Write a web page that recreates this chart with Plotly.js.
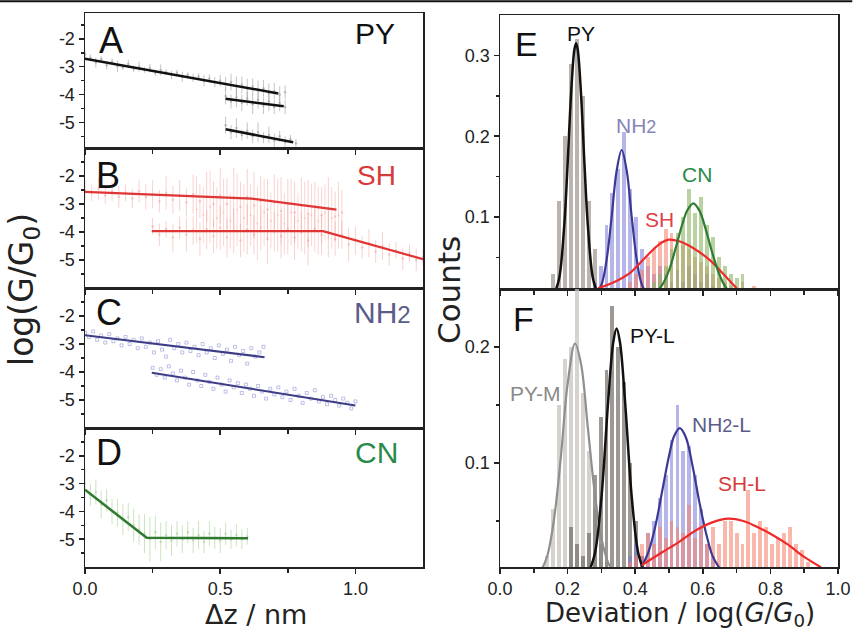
<!DOCTYPE html>
<html><head><meta charset="utf-8">
<script src="https://cdn.plot.ly/plotly-3.0.1.min.js"></script>
<style>html,body{margin:0;padding:0;background:#fff}#chart{width:854px;height:632px}</style>
</head><body><div id="chart"></div>
<script>
// ---------- Panel A (PY) ----------
const aCloud1X = [0,0.02,0.04,0.06,0.08,0.10,0.12,0.14,0.16,0.18,0.20,0.22,0.24,0.26,0.28,0.30,0.32,0.34,0.36,0.38,0.40,0.42,0.44,0.46,0.48,0.50,0.52,0.54,0.56,0.58,0.60,0.62,0.64,0.66,0.68,0.70,0.72,0.74];
const aCloud1Y = [-2.55,-2.68,-2.85,-2.72,-2.95,-2.82,-2.98,-3.02,-2.90,-3.08,-3.00,-3.12,-3.05,-3.22,-3.12,-3.20,-3.30,-3.22,-3.36,-3.30,-3.40,-3.35,-3.50,-3.42,-3.55,-3.50,-3.62,-3.55,-3.70,-3.65,-3.78,-3.72,-3.85,-3.78,-3.95,-3.88,-4.00,-3.92];
const aCloud1E = [0.15,0.12,0.18,0.1,0.15,0.12,0.2,0.1,0.15,0.12,0.18,0.1,0.15,0.12,0.2,0.1,0.15,0.12,0.18,0.1,0.15,0.12,0.2,0.15,0.18,0.2,0.25,0.3,0.35,0.3,0.35,0.3,0.35,0.3,0.35,0.3,0.3,0.25];
const aCloud2X = [0.52,0.54,0.56,0.58,0.60,0.62,0.64,0.66,0.68,0.70,0.72,0.74];
const aCloud2Y = [-4.05,-4.25,-4.10,-4.30,-4.15,-4.35,-4.20,-4.40,-4.25,-4.45,-4.30,-4.45];
const aCloud2E = [0.3,0.25,0.35,0.3,0.25,0.35,0.3,0.3,0.35,0.25,0.3,0.25];
const aCloud3X = [0.52,0.54,0.56,0.58,0.60,0.62,0.64,0.66,0.68,0.70,0.72,0.74,0.76,0.78];
const aCloud3Y = [-5.10,-5.35,-5.20,-5.45,-5.30,-5.50,-5.35,-5.55,-5.45,-5.65,-5.50,-5.70,-5.60,-5.75];
const aCloud3E = [0.3,0.25,0.35,0.2,0.3,0.25,0.35,0.2,0.3,0.25,0.2,0.2,0.15,0.15];
const aFit1X = [0, 0.715], aFit1Y = [-2.71, -3.96];
const aFit2X = [0.52, 0.735], aFit2Y = [-4.15, -4.42];
const aFit3X = [0.52, 0.77], aFit3Y = [-5.25, -5.71];

// ---------- Panel B (SH) ----------
const bCloud1X = [0,0.025,0.05,0.075,0.1,0.125,0.15,0.175,0.2,0.225,0.25,0.275,0.3,0.325,0.35,0.375,0.4,0.425,0.45,0.475,0.5,0.525,0.55,0.575,0.6,0.625,0.65,0.675,0.7,0.725,0.75,0.775,0.8,0.825,0.85,0.875,0.9,0.925,0.95];
const bCloud1Y = [-2.5,-2.6,-2.45,-2.7,-2.55,-2.75,-2.6,-2.8,-2.55,-2.75,-2.65,-2.9,-2.6,-2.85,-2.7,-2.95,-2.65,-2.9,-2.75,-3.0,-2.7,-3.0,-2.8,-3.1,-2.75,-3.05,-2.9,-3.2,-2.95,-3.25,-3.0,-3.3,-3.05,-3.35,-3.1,-3.4,-3.15,-3.45,-3.3];
const bCloud1E = [0.35,0.3,0.4,0.3,0.35,0.4,0.3,0.35,0.4,0.45,0.5,0.4,0.6,0.5,0.55,0.5,0.7,0.6,0.9,0.8,1.0,0.9,1.1,0.9,1.0,1.2,0.9,1.1,1.0,1.2,0.9,1.1,1.0,1.2,0.9,1.0,1.1,0.9,0.8];
const bCloud2X = [0.25,0.275,0.3,0.325,0.35,0.375,0.4,0.425,0.45,0.475,0.5,0.525,0.55,0.575,0.6,0.625,0.65,0.675,0.7,0.725,0.75,0.775,0.8,0.825,0.85,0.875,0.9,0.925,0.95,0.975,1.0,1.025,1.05,1.075,1.1,1.125,1.15,1.175,1.2,1.225,1.25];
const bCloud2Y = [-3.8,-4.1,-3.9,-4.2,-3.85,-4.1,-3.95,-4.25,-3.9,-4.15,-3.85,-4.2,-3.95,-4.3,-3.9,-4.1,-3.85,-4.25,-4.0,-4.15,-3.9,-4.2,-4.0,-4.3,-3.9,-4.1,-4.0,-4.25,-4.1,-4.45,-4.3,-4.55,-4.4,-4.7,-4.5,-4.8,-4.65,-4.95,-4.75,-5.0,-4.9];
const bCloud2E = [0.3,0.4,0.3,0.5,0.4,0.6,0.5,0.6,0.7,0.6,0.8,0.7,0.8,0.6,0.9,0.7,0.8,0.9,0.7,0.8,0.9,0.8,0.7,0.9,0.8,0.7,0.9,0.6,0.5,0.6,0.5,0.4,0.5,0.4,0.5,0.4,0.3,0.4,0.3,0.4,0.3];
const bCloud3X = [0.4125,0.4375,0.4625,0.4875,0.5125,0.5375,0.5625,0.5875,0.6125,0.6375,0.6625,0.6875,0.7125,0.7375,0.7625,0.7875,0.8125,0.8375,0.8625,0.8875,0.9125,0.9375];
const bCloud3Y = [-3.2,-3.4,-3.1,-3.5,-3.3,-3.6,-3.2,-3.5,-3.4,-3.7,-3.3,-3.6,-3.4,-3.7,-3.3,-3.6,-3.5,-3.4,-3.6,-3.3,-3.5,-3.4];
const bCloud3E = [1.2,1.0,1.3,1.1,1.2,1.0,1.3,1.2,1.1,1.3,1.2,1.0,1.3,1.1,1.2,1.0,1.3,1.1,1.2,1.0,1.1,1.2];
const bFit1X = [0, 0.617, 0.93], bFit1Y = [-2.57, -2.81, -3.2];
const bFit2X = [0.247, 0.88, 1.25], bFit2Y = [-3.97, -3.97, -4.97];

// ---------- Panel C (NH2) ----------
const cCloud1X = [0,0.015,0.03,0.045,0.06,0.075,0.09,0.105,0.12,0.135,0.15,0.165,0.18,0.195,0.21,0.225,0.24,0.255,0.27,0.285,0.3,0.315,0.33,0.345,0.36,0.375,0.39,0.405,0.42,0.435,0.45,0.465,0.48,0.495,0.51,0.525,0.54,0.555,0.57,0.585,0.6,0.615,0.63,0.645,0.66];
const cCloud1Y = [-2.6,-2.75,-2.55,-2.85,-2.7,-2.95,-2.65,-2.9,-2.8,-3.05,-2.75,-3.0,-2.85,-3.15,-2.8,-3.1,-2.95,-3.3,-2.9,-3.2,-3.45,-2.85,-3.15,-3.0,-3.3,-2.95,-3.25,-3.1,-3.4,-3.0,-3.3,-3.15,-3.5,-3.05,-3.35,-3.2,-3.6,-3.1,-3.4,-3.25,-3.7,-3.15,-3.45,-3.3,-3.1];
const cCloud2X = [0.25,0.265,0.28,0.295,0.31,0.325,0.34,0.355,0.37,0.385,0.4,0.415,0.43,0.445,0.46,0.475,0.49,0.505,0.52,0.535,0.55,0.565,0.58,0.595,0.61,0.625,0.64,0.655,0.67,0.685,0.7,0.715,0.73,0.745,0.76,0.775,0.79,0.805,0.82,0.835,0.85,0.865,0.88,0.895,0.91,0.925,0.94,0.955,0.97,0.985,1.0];
const cCloud2Y = [-3.85,-4.1,-3.9,-4.2,-3.8,-4.05,-4.3,-3.95,-4.2,-4.45,-4.0,-4.3,-4.5,-4.1,-4.35,-4.6,-4.2,-4.45,-4.7,-4.3,-4.55,-4.4,-4.75,-4.45,-4.6,-4.85,-4.5,-4.7,-4.95,-4.6,-4.8,-4.55,-4.9,-4.7,-5.0,-4.6,-4.85,-5.1,-4.75,-4.95,-4.65,-5.05,-4.9,-5.15,-4.85,-5.0,-5.2,-4.95,-5.1,-5.3,-5.05];
const cFit1X = [0, 0.664], cFit1Y = [-2.69, -3.47];
const cFit2X = [0.247, 1.0], cFit2Y = [-4.03, -5.2];

// ---------- Panel D (CN) ----------
const dCloudX = [0,0.02,0.04,0.06,0.08,0.1,0.12,0.14,0.16,0.18,0.2,0.22,0.24,0.26,0.28,0.3,0.32,0.34,0.36,0.38,0.4,0.42,0.44,0.46,0.48,0.5,0.52,0.54,0.56,0.58,0.6];
const dCloudY = [-3.0,-3.4,-3.3,-3.75,-3.6,-4.0,-4.05,-4.3,-4.2,-4.5,-4.65,-4.8,-5.0,-4.75,-5.1,-4.85,-5.05,-4.8,-5.0,-4.75,-5.05,-4.85,-5.1,-4.8,-4.95,-5.05,-4.8,-5.0,-4.85,-5.0,-4.9];
const dCloudE = [0.5,0.4,0.45,0.5,0.4,0.45,0.5,0.55,0.5,0.6,0.55,0.7,0.8,0.6,0.7,0.5,0.55,0.45,0.5,0.4,0.45,0.5,0.4,0.45,0.4,0.45,0.4,0.35,0.4,0.35,0.3];
const dFitX = [0, 0.228, 0.603], dFitY = [-3.22, -4.95, -4.97];

// ---------- Panel E histograms ----------
const ePyX = [0.1575,0.175,0.1925,0.21,0.2275,0.245,0.2625,0.28];
const ePyY = [0.03,0.12,0.20,0.29,0.32,0.25,0.12,0.06];
const eNhX = [0.28,0.2975,0.315,0.3325,0.35,0.3675,0.385,0.4025,0.42,0.4375,0.455,0.4725,0.49,0.5075,0.525,0.5425,0.56,0.5775,0.595,0.6125,0.63];
const eNhY = [0.02,0.04,0.09,0.13,0.16,0.205,0.135,0.10,0.06,0.04,0.03,0.04,0.03,0.02,0.035,0.02,0.04,0.03,0.02,0.03,0.015];
const eShX = [0.385,0.4025,0.42,0.4375,0.455,0.4725,0.49,0.5075,0.525,0.5425,0.56,0.5775,0.595,0.6125,0.63,0.6475,0.665,0.6825,0.70,0.7175,0.735,0.7525];
const eShY = [0.02,0.03,0.035,0.05,0.06,0.07,0.085,0.08,0.075,0.065,0.06,0.05,0.045,0.04,0.03,0.025,0.02,0.015,0.012,0.02,0.012,0.015];
const eCnX = [0.455,0.4725,0.49,0.5075,0.525,0.5425,0.56,0.5775,0.595,0.6125,0.63,0.6475,0.665,0.6825,0.70,0.7175,0.735];
const eCnY = [0.02,0.03,0.04,0.06,0.08,0.10,0.135,0.105,0.125,0.09,0.075,0.05,0.04,0.03,0.025,0.03,0.012];
const ePyFitX = [0.16,0.175,0.19,0.20,0.21,0.22,0.225,0.23,0.24,0.25,0.26,0.275,0.29];
const ePyFitY = [0.004,0.024,0.089,0.165,0.25,0.307,0.315,0.307,0.25,0.165,0.089,0.024,0.004];
const eNhFitX = [0.28,0.30,0.315,0.33,0.345,0.36,0.375,0.39,0.405,0.42,0.44];
const eNhFitY = [0.002,0.016,0.046,0.099,0.157,0.183,0.157,0.099,0.046,0.016,0.002];
const eShFitX = [0.29,0.33,0.385,0.43,0.47,0.50,0.53,0.57,0.62,0.66,0.70];
const eShFitY = [0.012,0.018,0.031,0.05,0.066,0.072,0.07,0.062,0.047,0.03,0.012];
const eCnFitX = [0.46,0.48,0.50,0.52,0.54,0.555,0.572,0.59,0.61,0.63,0.65,0.67,0.70];
const eCnFitY = [0.006,0.016,0.034,0.062,0.092,0.109,0.117,0.108,0.083,0.053,0.028,0.012,0.002];

// ---------- Panel F histograms ----------
const fPyMX = [0.1225,0.14,0.1575,0.175,0.1925,0.21,0.2275,0.245,0.2625,0.28,0.2975,0.315];
const fPyMY = [0.005,0.02,0.06,0.15,0.19,0.20,0.25,0.16,0.11,0.06,0.03,0.015];
const fPyLX = [0.21,0.2275,0.245,0.2625,0.28,0.2975,0.315,0.3325,0.35,0.3675,0.385,0.4025,0.42];
const fPyLY = [0.045,0.03,0.02,0.04,0.09,0.14,0.18,0.235,0.2,0.17,0.1,0.05,0.02];
const fNhX = [0.385,0.4025,0.42,0.4375,0.455,0.4725,0.49,0.5075,0.525,0.5425,0.56,0.5775,0.595,0.6125,0.63];
const fNhY = [0.02,0.03,0.02,0.04,0.05,0.07,0.09,0.12,0.15,0.11,0.115,0.09,0.06,0.03,0.02];
const fShX = [0.385,0.4025,0.42,0.4375,0.455,0.4725,0.49,0.5075,0.525,0.5425,0.56,0.5775,0.595,0.6125,0.63,0.6475,0.665,0.6825,0.70,0.7175,0.735,0.7525,0.77,0.7875,0.805,0.8225,0.84,0.8575,0.875,0.8925,0.91,0.9275];
const fShY = [0.015,0.02,0.03,0.04,0.03,0.045,0.035,0.05,0.045,0.04,0.064,0.035,0.045,0.03,0.045,0.03,0.05,0.05,0.04,0.03,0.077,0.04,0.05,0.045,0.03,0.035,0.04,0.045,0.03,0.025,0.015,0.01];
const fPyMFitX = [0.12,0.14,0.16,0.18,0.20,0.222,0.24,0.26,0.28,0.30,0.32,0.34];
const fPyMFitY = [0.006,0.02,0.052,0.105,0.168,0.203,0.185,0.13,0.075,0.035,0.014,0.004];
const fPyLFitX = [0.26,0.28,0.30,0.32,0.335,0.345,0.355,0.37,0.39,0.41,0.43];
const fPyLFitY = [0.004,0.021,0.07,0.153,0.204,0.216,0.204,0.153,0.07,0.021,0.004];
const fNhFitX = [0.42,0.44,0.46,0.48,0.50,0.515,0.532,0.55,0.57,0.59,0.61,0.63,0.66];
const fNhFitY = [0.011,0.024,0.046,0.076,0.106,0.123,0.13,0.122,0.097,0.066,0.039,0.019,0.005];
const fShFitX = [0.42,0.48,0.53,0.58,0.63,0.675,0.72,0.76,0.80,0.85,0.90,0.95];
const fShFitY = [0.012,0.023,0.032,0.042,0.049,0.052,0.05,0.045,0.039,0.03,0.019,0.01];

// ---------- Tick labels ----------
const leftXTicks = [0, 0.5, 1.0], leftXText = ['0.0','0.5','1.0'];
const leftYTicks = [-2,-3,-4,-5], leftYText = ['-2','-3','-4','-5'];
const rightXTicks = [0,0.2,0.4,0.6,0.8,1.0], rightXText = ['0.0','0.2','0.4','0.6','0.8','1.0'];

const FONT = 'Liberation Sans, Arial, sans-serif';
const TFONT = 'DejaVu Sans, Liberation Sans, sans-serif';
const traces = [];
function cloud(x, y, e, ax, color, msize, sym) {
  const t = {x, y, xaxis:'x'+ax, yaxis:'y'+ax, type:'scatter', mode:'markers', hoverinfo:'skip', showlegend:false,
    marker:{size:msize, color:color, symbol:sym||'circle', line:{width:0}}};
  if (e) t.error_y = {type:'data', array:e, visible:true, color:color, thickness:1, width:0};
  traces.push(t);
}
function line(x, y, ax, color, w, shape) {
  traces.push({x, y, xaxis:'x'+ax, yaxis:'y'+ax, type:'scatter', mode:'lines', hoverinfo:'skip', showlegend:false,
    line:{color:color, width:w, shape:shape||'linear', smoothing:1}});
}
function bars(x, y, ax, color) {
  traces.push({x, y, xaxis:'x'+ax, yaxis:'y'+ax, type:'bar', width:0.0115, hoverinfo:'skip', showlegend:false,
    marker:{color:color, line:{width:0}}});
}
// A
cloud(aCloud1X, aCloud1Y, aCloud1E, '', 'rgba(150,150,150,0.55)', 2.5);
cloud(aCloud2X, aCloud2Y, aCloud2E, '', 'rgba(150,150,150,0.55)', 2.5);
cloud(aCloud3X, aCloud3Y, aCloud3E, '', 'rgba(150,150,150,0.55)', 2.5);
line(aFit1X, aFit1Y, '', '#111', 2.5); line(aFit2X, aFit2Y, '', '#111', 2.5); line(aFit3X, aFit3Y, '', '#111', 2.5);
// B
cloud(bCloud1X, bCloud1Y, bCloud1E, '2', 'rgba(240,140,130,0.4)', 2.5);
cloud(bCloud2X, bCloud2Y, bCloud2E, '2', 'rgba(240,140,130,0.4)', 2.5);
cloud(bCloud3X, bCloud3Y, bCloud3E, '2', 'rgba(240,140,130,0.35)', 2);
line(bFit1X, bFit1Y, '2', '#e03535', 2.2); line(bFit2X, bFit2Y, '2', '#e03535', 2.2);
// C
cloud(cCloud1X, cCloud1Y, null, '3', 'rgba(140,140,215,0.55)', 3, 'square-open');
cloud(cCloud2X, cCloud2Y, null, '3', 'rgba(140,140,215,0.55)', 3, 'square-open');
line(cFit1X, cFit1Y, '3', '#3d3d85', 2); line(cFit2X, cFit2Y, '3', '#3d3d85', 2);
// D
cloud(dCloudX, dCloudY, dCloudE, '4', 'rgba(160,205,140,0.55)', 2.5);
line(dFitX, dFitY, '4', '#2f7a30', 2.5);
// E
bars(ePyX, ePyY, '5', 'rgba(150,140,130,0.65)');
bars(eNhX, eNhY, '5', 'rgba(120,120,215,0.55)');
bars(eShX, eShY, '5', 'rgba(245,125,105,0.55)');
bars(eCnX, eCnY, '5', 'rgba(140,180,100,0.6)');
line(ePyFitX, ePyFitY, '5', '#111', 2.5, 'spline');
line(eNhFitX, eNhFitY, '5', '#3a3a95', 2.2, 'spline');
line(eShFitX, eShFitY, '5', '#ee2a2a', 2.2, 'spline');
line(eCnFitX, eCnFitY, '5', '#2e7d32', 2.2, 'spline');
// F
bars(fPyMX, fPyMY, '6', 'rgba(200,195,190,0.75)');
bars(fPyLX, fPyLY, '6', 'rgba(115,108,102,0.7)');
bars(fNhX, fNhY, '6', 'rgba(120,120,215,0.55)');
bars(fShX, fShY, '6', 'rgba(245,125,105,0.55)');
line(fPyMFitX, fPyMFitY, '6', '#8f8f8f', 2.2, 'spline');
line(fPyLFitX, fPyLFitY, '6', '#111', 2.5, 'spline');
line(fNhFitX, fNhFitY, '6', '#3a3a95', 2.2, 'spline');
line(fShFitX, fShFitY, '6', '#ee2a2a', 2.2, 'spline');

function ax(extra) {
  return Object.assign({showline:true, linecolor:'#222', linewidth:1.5, mirror:true, ticks:'outside', ticklen:5,
    tickwidth:1.5, tickcolor:'#222', showgrid:false, zeroline:false, fixedrange:true,
    tickfont:{family:FONT, size:18, color:'#222'}}, extra);
}
const LX = [85/854, 423/854], RX = [500/854, 838/854];
function leftX(anchor, dom, labels) {
  return ax({domain:LX, anchor:anchor, range:[0,1.25], tickmode:'array', tickvals:leftXTicks, ticktext:leftXText,
    showticklabels:labels, minor:{tickmode:'array', tickvals:[0.25,0.75], ticks:'outside', ticklen:4, tickcolor:'#222'}});
}
function leftY(anchor, dom, rng) {
  return ax({domain:dom, anchor:anchor, range:rng, tickmode:'array', tickvals:leftYTicks, ticktext:leftYText,
    minor:{tickmode:'array', tickvals:[-1.5,-2.5,-3.5,-4.5,-5.5], ticks:'outside', ticklen:3, tickcolor:'#222'}});
}
function rightX(anchor, labels) {
  return ax({domain:RX, anchor:anchor, range:[0,1], tickmode:'array', tickvals:rightXTicks, ticktext:rightXText,
    showticklabels:labels, minor:{tickmode:'array', tickvals:[0.1,0.3,0.5,0.7,0.9], ticks:'outside', ticklen:4, tickcolor:'#222'}});
}
const dA = [1-148/632, 1-13/632], dB = [1-288/632, 1-148/632], dC = [1-428/632, 1-288/632], dD = [1-567/632, 1-428/632];
const dE = [1-289/632, 1-15/632], dF = [1-567/632, 1-289/632];

function ann(text, px, py, size, color, angle, xa, fam) {
  return {text:text, x:px/854, y:1-py/632, xref:'paper', yref:'paper', showarrow:false, textangle:angle||0,
    xanchor:xa||'center', yanchor:'middle', font:{family:fam||FONT, size:size, color:color}};
}
const annotations = [
  ann('A', 111, 40, 36, '#111'), ann('B', 108, 176, 36, '#111'), ann('C', 109, 312, 36, '#111'), ann('D', 109, 452, 36, '#111'),
  ann('PY', 397, 33, 30, '#111', 0, 'right'), ann('SH', 398, 176, 28, '#d83a3a', 0, 'right'),
  ann('NH<span style="font-size:24px">2</span>', 413, 312, 30, '#5c5c8c', 0, 'right'), ann('CN', 400, 452, 30, '#2a8a4a', 0, 'right'),
  ann('E', 526, 44, 34, '#111'), ann('F', 523, 319, 34, '#111'),
  ann('PY', 581, 34, 21, '#111'), ann('NH<span style="font-size:18px">2</span>', 636, 126, 21, '#8585b8'),
  ann('SH', 659, 219, 21, '#e0404a'), ann('CN', 697, 175, 21, '#2a8a4a'),
  ann('PY-L', 652, 336, 21, '#111'), ann('PY-M', 535, 393, 21, '#8a8a8a'),
  ann('NH<span style="font-size:18px">2</span>-L', 721, 424, 21, '#5c5c8c'), ann('SH-L', 742, 483, 21, '#d83a3a'),
  ann('log(G/G<sub>0</sub>)', 23, 290, 33, '#222', -90, 'center', TFONT),
  ann('\u0394z / nm', 256, 614, 27, '#222', 0, 'center', TFONT),
  ann('Counts', 449, 290, 31, '#222', -90, 'center', TFONT),
  ann('Deviation / log(<i>G</i>/<i>G</i><sub>0</sub>)', 680, 614, 26, '#222', 0, 'center', TFONT)
];

const layout = {
  width:854, height:632, margin:{l:0, r:0, t:0, b:0}, paper_bgcolor:'#fff', plot_bgcolor:'rgba(0,0,0,0)',
  showlegend:false, barmode:'overlay', bargap:0,
  font:{family:FONT, color:'#222'},
  xaxis: leftX('y', dA, false), yaxis: leftY('x', dA, [-5.92,-1.07]),
  xaxis2: leftX('y2', dB, false), yaxis2: leftY('x2', dB, [-6,-1]),
  xaxis3: leftX('y3', dC, false), yaxis3: leftY('x3', dC, [-6,-1]),
  xaxis4: leftX('y4', dD, true), yaxis4: leftY('x4', dD, [-6,-1]),
  xaxis5: rightX('y5', false),
  yaxis5: ax({domain:dE, anchor:'x5', range:[0.011,0.35], tickmode:'array', tickvals:[0.1,0.2,0.3], ticktext:['0.1','0.2','0.3'],
    minor:{tickmode:'array', tickvals:[0.05,0.15,0.25], ticks:'outside', ticklen:3, tickcolor:'#222'}}),
  xaxis6: rightX('y6', true),
  yaxis6: ax({domain:dF, anchor:'x6', range:[0.0103,0.25], tickmode:'array', tickvals:[0.1,0.2], ticktext:['0.1','0.2'],
    minor:{tickmode:'array', tickvals:[0.05,0.15], ticks:'outside', ticklen:3, tickcolor:'#222'}}),
  annotations: annotations,
  shapes: [{type:'line', xref:'paper', yref:'paper', x0:0, x1:0.998, y0:0.998, y1:0.998, line:{color:'#111', width:2}}]
};
Plotly.newPlot('chart', traces, layout, {staticPlot:true, displayModeBar:false});
</script></body></html>
